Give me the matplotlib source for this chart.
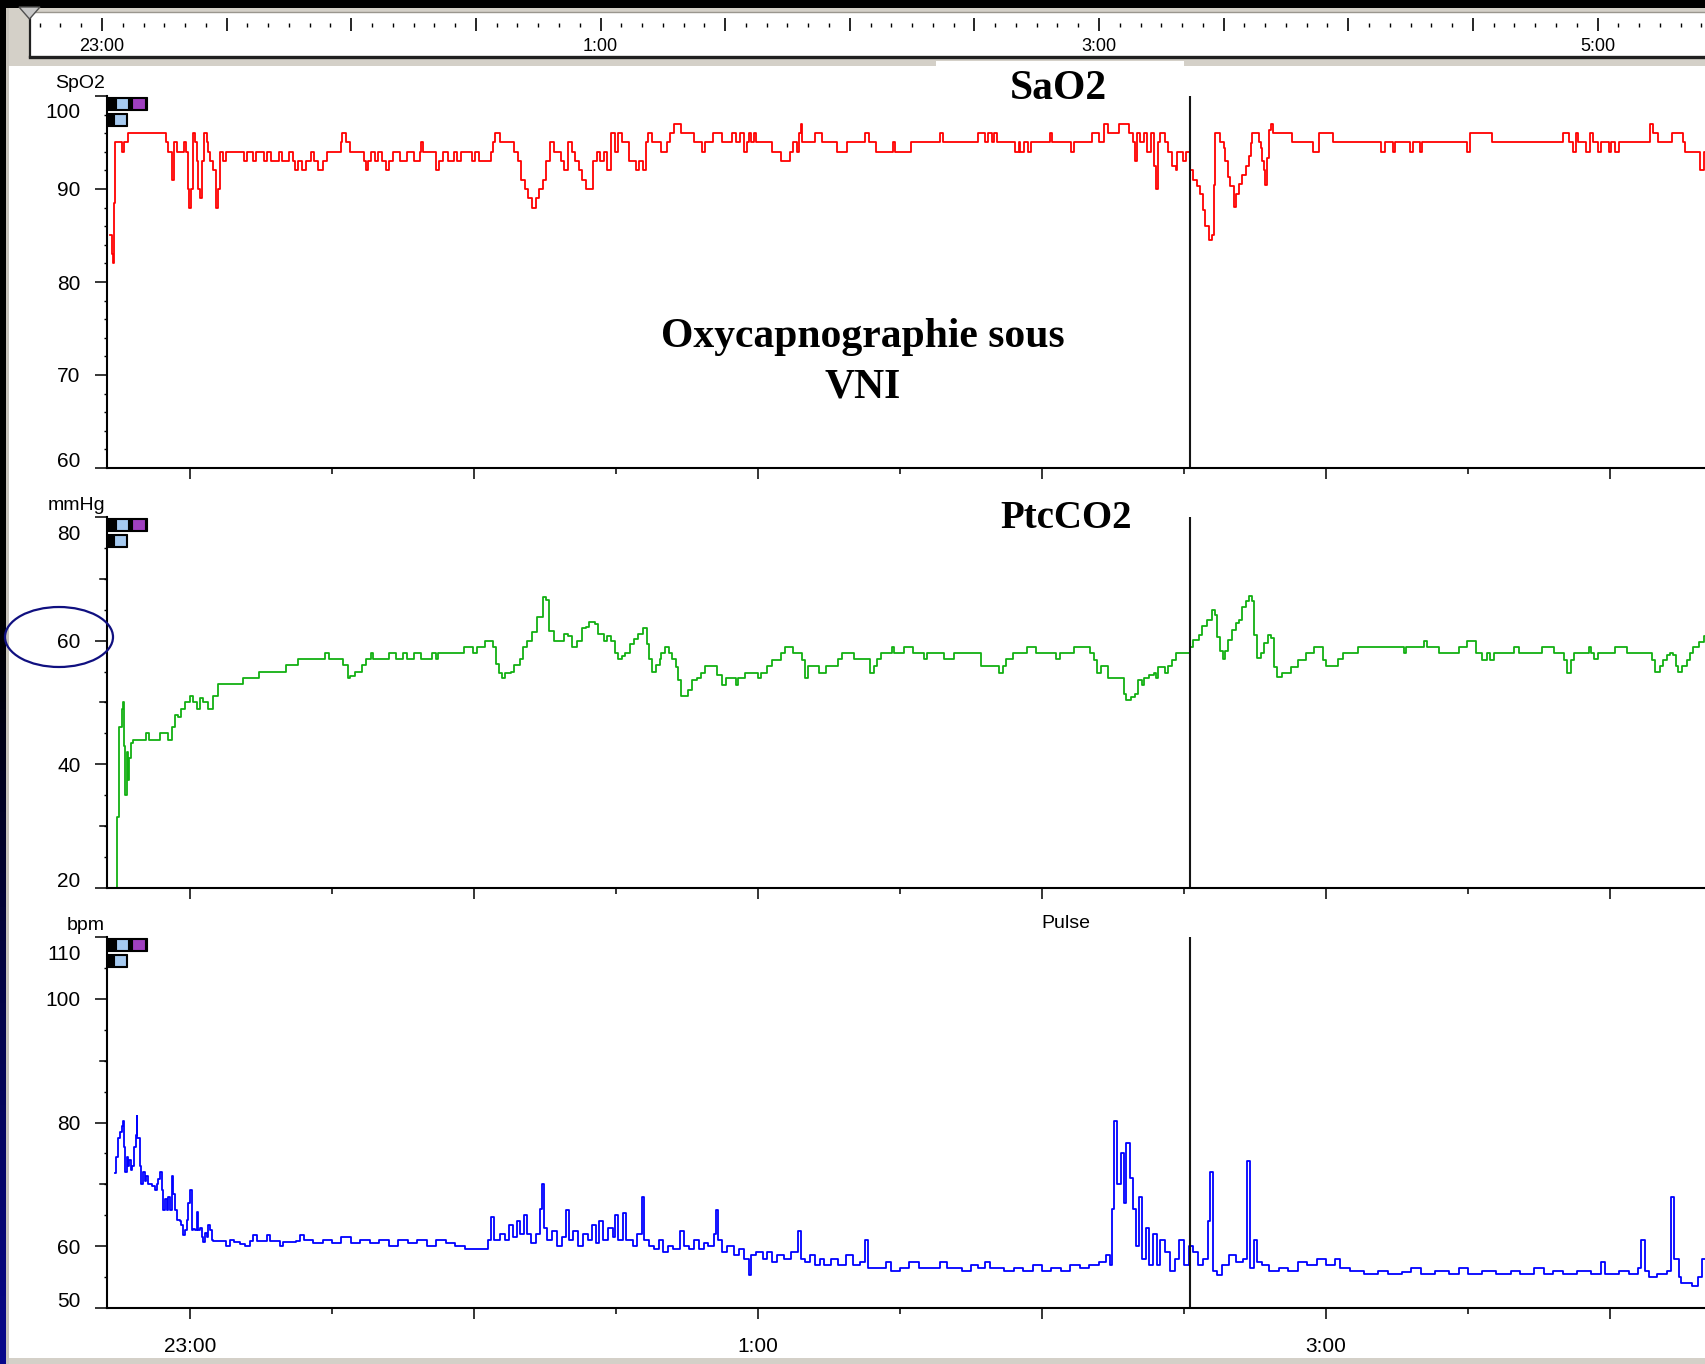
import numpy as np
import matplotlib
matplotlib.use("Agg")
import matplotlib.pyplot as plt
from matplotlib.patches import Rectangle, Ellipse, Polygon
from matplotlib.transforms import ScaledTranslation

# ---------------- data : (minutes relative to 23:00, value) ----------------
SPO2 = [(-16.8, 85), (-16.5, 83), (-16.3, 82), (-16.1, 88.5), (-15.9, 95), (-14.3, 94), (-13.9, 95), (-13.2, 96),
        (-5.0, 95), (-4.6, 94), (-3.8, 91), (-3.3, 95), (-2.8, 94), (-1.2, 95), (-0.8, 94), (-0.5, 90), (-0.15, 88),
        (0.3, 90), (0.7, 96), (1.1, 95), (1.4, 93), (1.7, 90), (2.1, 89), (2.5, 93), (2.9, 96), (3.5, 95), (3.9, 94),
        (4.3, 93), (4.9, 92), (5.5, 88), (6.0, 90), (6.4, 94), (7.0, 93), (7.6, 94),
        (8.0, 94), (11.5, 93), (12.0, 94), (13.4, 93), (14.0, 94), (15.7, 93), (16.3, 94), (17.2, 93), (18.7, 94),
        (19.5, 93), (21.0, 94), (21.7, 93), (22.1, 92), (22.9, 93), (23.6, 92), (24.5, 93), (25.5, 94), (26.3, 93),
        (27.0, 92), (28.2, 93), (28.9, 94), (31.9, 95), (32.2, 96), (33.0, 95), (33.8, 94), (36.8, 93), (37.2, 92),
        (37.6, 93), (38.3, 94), (39.1, 93), (39.8, 94), (40.6, 93), (41.4, 92), (42.1, 93), (42.9, 94), (44.4, 93),
        (45.9, 94), (47.4, 93), (48.5, 94), (48.9, 95), (49.3, 94), (51.9, 92), (52.7, 93), (53.4, 94), (54.6, 93),
        (55.7, 94), (56.4, 93), (57.2, 94), (59.5, 93), (60.2, 94), (61.0, 93), (63.6, 94), (64.0, 95), (64.4, 96),
        (65.5, 95), (68.5, 94), (69.3, 93), (70.0, 91), (70.8, 90), (71.5, 89), (72.3, 88), (73.0, 89), (73.8, 90),
        (74.5, 91), (75.3, 93), (76.1, 95), (76.8, 94), (78.3, 93), (79.1, 92), (79.8, 95), (80.6, 94), (81.3, 93),
        (82.1, 92), (82.9, 91), (83.6, 90), (85.1, 93), (85.9, 94), (86.6, 93), (87.4, 94), (88.1, 92), (88.9, 96),
        (89.7, 94), (90.4, 96), (91.2, 95), (92.7, 93), (94.2, 92), (94.9, 93), (95.7, 92), (96.4, 95), (96.7, 96),
        (97.7, 95), (99.6, 94), (100.7, 95), (101.5, 96), (102.2, 97), (103.7, 96), (106.4, 95), (108.1, 94),
        (108.7, 95), (110.5, 96), (112.4, 95), (114.5, 96), (115.4, 95), (116.2, 96), (117.0, 94), (117.7, 95),
        (118.1, 96), (118.5, 95), (119.2, 96), (119.6, 95), (123.0, 94), (124.9, 93), (126.8, 94), (127.5, 95),
        (128.3, 94), (128.6, 96), (129.0, 97), (129.4, 95), (132.0, 96), (133.6, 95), (136.6, 94), (138.8, 95),
        (142.6, 96), (143.4, 95), (144.9, 94), (148.6, 95), (149.0, 94), (152.4, 95), (158.5, 96), (159.1, 95),
        (166.4, 96), (167.9, 95), (168.6, 96), (169.4, 95), (169.8, 96), (170.5, 95), (174.3, 94), (175.1, 95),
        (175.4, 94), (176.2, 95), (177.0, 94), (177.7, 95), (181.7, 96), (182.2, 95), (186.2, 94), (186.7, 95),
        (190.5, 96), (192.0, 95), (193.2, 97), (193.9, 96), (196.2, 97), (198.4, 96), (199.2, 95), (199.6, 93),
        (200.0, 96), (200.7, 95), (201.5, 96), (202.2, 94), (203.0, 96), (203.7, 92.5), (204.1, 90), (204.5, 95),
        (204.9, 96), (206.0, 95), (206.7, 94), (207.5, 92.5), (208.3, 92), (208.6, 94), (209.8, 93), (210.5, 94),
        (211.3, 92), (212.0, 91), (212.7, 90.3), (213.4, 89.5), (214.1, 87.7), (214.5, 86), (215.2, 84.5),
        (215.9, 85), (216.3, 90.4), (216.6, 96), (217.7, 95), (218.4, 94.4), (218.7, 93), (219.4, 91.3),
        (219.8, 90.3), (220.5, 88.1), (220.9, 89.5), (221.6, 90.5), (222.3, 91.5), (223.0, 92.5), (223.7, 93.5),
        (224.1, 94.9), (224.4, 96), (225.8, 95), (226.2, 94.4), (226.5, 93), (226.9, 92), (227.2, 90.4),
        (227.6, 93.3), (227.9, 96.3), (228.4, 97), (228.9, 96), (232.9, 95), (237.2, 94), (238.6, 96), (241.4, 95),
        (251.7, 94), (252.4, 95), (254.2, 94), (254.5, 95), (257.7, 94), (258.4, 95), (259.9, 94), (260.2, 95),
        (269.8, 94), (270.5, 96), (275.1, 95), (290.0, 96), (291.4, 95), (292.1, 94), (292.8, 96), (293.2, 95),
        (294.9, 94), (295.7, 96), (296.4, 95), (297.4, 94), (298.1, 95), (299.8, 94), (300.3, 95), (301.0, 94),
        (302.0, 95), (308.4, 97), (309.1, 96), (310.2, 95), (313.0, 96), (315.5, 95), (315.9, 94), (319.0, 92),
        (319.8, 94), (320.3, 95)]

PTCCO2 = [(-15.6, 20), (-15.4, 31.5), (-15.0, 46), (-14.4, 49), (-14.1, 50), (-13.9, 43), (-13.7, 35), (-13.4, 42),
          (-13.2, 37.5), (-12.8, 41), (-12.5, 43.5), (-12.0, 44), (-9.2, 45), (-8.6, 44), (-6.3, 45), (-4.6, 44),
          (-3.9, 46), (-3.2, 48), (-2.5, 47.7), (-1.8, 49), (-1.1, 50), (0.0, 51), (0.7, 50), (1.4, 49), (2.1, 50.7),
          (2.8, 50), (3.9, 49), (4.9, 51), (5.9, 53), (11.2, 54), (14.6, 55), (20.2, 56), (22.9, 57), (28.5, 58),
          (29.3, 57), (32.3, 56), (33.3, 54), (33.8, 54.3), (34.9, 55), (36.4, 56), (37.2, 57), (38.3, 58), (38.7, 57),
          (42.1, 58), (43.6, 57), (45.1, 58), (45.9, 57), (47.4, 58), (48.9, 57), (51.2, 58), (51.9, 57), (52.3, 58),
          (57.9, 59), (59.8, 58), (60.6, 59), (62.3, 60), (64.0, 59), (64.7, 56.2), (65.3, 54.7), (65.9, 54),
          (66.6, 54.7), (67.8, 55), (68.5, 56), (69.7, 57), (70.4, 59), (71.2, 60), (72.3, 61.4), (73.4, 63.8),
          (74.6, 67), (75.3, 66.5), (75.9, 61.6), (76.8, 60), (79.1, 61), (79.8, 60.8), (80.6, 59), (81.7, 60),
          (82.9, 62), (83.6, 62.2), (84.4, 63), (85.5, 62.7), (86.3, 61), (87.4, 60), (88.1, 60.8), (88.9, 60),
          (89.7, 58), (90.4, 57), (91.2, 57.6), (91.9, 58), (93.0, 59.5), (93.8, 60.3), (94.6, 61), (95.7, 62),
          (96.5, 59.5), (97.0, 57), (97.7, 55), (98.5, 56), (99.2, 57), (99.6, 58), (100.4, 59), (101.1, 58),
          (101.9, 57), (102.6, 55.8), (103.0, 53.7), (103.8, 51), (105.3, 52), (106.0, 53.7), (107.1, 54),
          (107.9, 54.8), (108.7, 55.9), (111.3, 54.4), (112.4, 52.8), (113.2, 53.9), (115.4, 52.8), (115.8, 53.9),
          (117.3, 54.8), (120.0, 53.9), (120.7, 54.8), (121.9, 55.9), (123.0, 56.9), (124.9, 58), (125.6, 58.9),
          (127.5, 58), (129.4, 56.9), (129.9, 53.9), (130.5, 55.9), (132.8, 54.8), (134.3, 55.9), (136.9, 57),
          (137.7, 58), (140.3, 57), (143.7, 54.8), (144.5, 55.9), (145.2, 57), (146.0, 58), (148.3, 58.9),
          (148.8, 58), (150.9, 58.9), (152.8, 58), (155.1, 57), (155.8, 58), (159.2, 57), (161.5, 58),
          (167.1, 55.9), (170.9, 54.8), (171.7, 55.9), (172.4, 57), (173.9, 58), (176.9, 58.9), (178.8, 58),
          (183.0, 57), (183.7, 58), (186.7, 58.9), (190.1, 58), (190.9, 56.9), (191.7, 54.8), (192.4, 55.9),
          (193.9, 53.9), (197.3, 51.4), (197.7, 50.4), (198.8, 50.9), (199.6, 51.4), (200.3, 53.7), (201.1, 52.8),
          (201.5, 53.9), (202.6, 54.4), (203.7, 54.8), (204.1, 53.9), (204.5, 55.8), (206.0, 54.8), (206.7, 55.9),
          (207.5, 56.9), (208.3, 58), (211.3, 58.9), (212.0, 60.1), (213.1, 60.9), (213.8, 62.3), (214.8, 63.4),
          (215.9, 65), (216.6, 64.2), (217.0, 60.6), (217.7, 58.4), (218.2, 57), (218.7, 58.4), (219.4, 60.1),
          (220.1, 61.7), (220.9, 62.8), (221.6, 63.4), (222.3, 65.5), (223.0, 66.4), (223.7, 67.2), (224.4, 66.4),
          (224.8, 60.9), (225.5, 57.2), (226.2, 58), (226.9, 59.6), (227.7, 60.9), (228.4, 60.4), (229.0, 55.8),
          (229.7, 54.2), (230.8, 54.7), (232.6, 55.8), (234.0, 56.9), (235.8, 58), (237.5, 58.9), (239.3, 56.9),
          (240.0, 55.9), (242.5, 57), (243.5, 58), (246.7, 58.9), (256.5, 58), (257.0, 58.9), (260.6, 60),
          (261.3, 58.9), (263.8, 58), (268.0, 58.9), (269.8, 60), (271.6, 58), (273.0, 56.9), (274.0, 58),
          (274.7, 56.9), (275.4, 58), (279.7, 58.9), (280.8, 58), (285.7, 58.9), (288.2, 58), (290.3, 56.9),
          (291.0, 54.7), (291.8, 56.9), (292.5, 58), (295.5, 58.9), (296.0, 58), (296.7, 57), (297.4, 58),
          (301.0, 58.9), (303.5, 58), (308.8, 56.9), (309.5, 55), (310.5, 55.9), (311.3, 56.9), (312.0, 57.7),
          (312.7, 58), (313.4, 57.7), (314.0, 55.9), (314.4, 55), (315.2, 55.9), (316.2, 56.9), (316.9, 58),
          (317.6, 58.9), (318.7, 59.8), (319.8, 60.7), (320.3, 61.5)]

PULSE = [(-15.8, 71.8), (-15.6, 74.5), (-15.3, 77.5), (-14.8, 78.5), (-14.3, 79.4), (-14.1, 80.2), (-14.0, 76),
         (-13.7, 72), (-13.4, 74.5), (-13.1, 73), (-12.8, 74), (-12.5, 72.3), (-12.2, 73), (-11.8, 76), (-11.5, 78),
         (-11.3, 81), (-11.1, 77.5), (-10.6, 73), (-10.3, 70), (-9.9, 72), (-9.6, 70.5), (-9.2, 71.3), (-8.8, 70),
         (-8.1, 69.7), (-7.4, 69.1), (-7.0, 70), (-6.7, 70.8), (-6.3, 72), (-5.9, 69.1), (-5.6, 65.8), (-5.3, 67.7),
         (-4.9, 65.8), (-4.6, 68), (-4.2, 65.8), (-3.8, 71.3), (-3.5, 68.5), (-3.2, 65.8), (-2.8, 64.2), (-2.1, 64),
         (-1.8, 63.5), (-1.4, 61.8), (-1.1, 62.6), (-0.7, 64.2), (-0.35, 67), (0.0, 69.1), (0.35, 62.6), (0.7, 62.8),
         (1.05, 62.6), (1.4, 65.5), (1.75, 62.6), (2.1, 63), (2.45, 61.5), (2.8, 60.7), (3.15, 62.2), (3.5, 61.5),
         (3.85, 63.5), (4.2, 62.6), (4.55, 61.0), (4.9, 60.8), (7.0, 60.8), (7.7, 60.0), (8.5, 61.0), (9.2, 60.7),
         (10.6, 60.4), (11.7, 60.0), (12.7, 60.8), (13.4, 61.8), (14.1, 60.8), (16.2, 61.8), (16.9, 60.8),
         (19.0, 60.0), (19.7, 60.7), (22.5, 60.8), (23.2, 61.8), (24, 61), (26, 60.5), (28, 61), (30, 60.5),
         (32, 61.5), (34, 60.5), (36, 61), (38, 60.5), (40, 61), (42, 60), (44, 61), (46, 60.5), (48, 61), (50, 60),
         (52, 61), (54, 60.5), (56, 60), (58, 59.5), (63, 61), (63.5, 64.7), (64.2, 61), (65.5, 62), (66.5, 61),
         (67.5, 63.5), (68.3, 61.5), (69.1, 64), (69.8, 62), (70.5, 65), (71.2, 62), (72.0, 60.5), (73.0, 62),
         (74.0, 66), (74.3, 70), (74.8, 63), (75.5, 61), (76.5, 62.5), (77.5, 60), (78.5, 61.5), (79.4, 65.8),
         (80.0, 61), (81, 62.5), (82, 60), (83, 62), (84, 61), (85, 63.5), (85.8, 60.5), (86.5, 64), (87.3, 61),
         (88.3, 63), (89.3, 61.5), (89.8, 65), (90.5, 61), (91.5, 65.3), (92.2, 61), (93.5, 60), (94.5, 62),
         (95.5, 68), (96.0, 61), (97, 60), (98, 59.5), (99, 61), (100, 59), (101, 60), (102, 59.5), (103.5, 62.5),
         (104.3, 60), (105.5, 59.5), (106.5, 61), (107.5, 59.5), (108.5, 60.5), (109.5, 60), (110.7, 62),
         (111.1, 65.8), (111.6, 61), (112.5, 59), (113.5, 60), (115, 58.5), (116, 59.5), (117, 58), (118, 55.3),
         (118.5, 58.5), (119.5, 59), (121, 58), (122, 59), (123, 57.5), (124, 58.5), (125.5, 58), (127, 59),
         (128.4, 62.5), (129, 58), (130, 57.5), (131, 58.5), (132, 57), (133, 58), (134, 57), (135.5, 58),
         (137, 57), (138.5, 58.5), (140, 57), (141.5, 57.5), (142.6, 61), (143.3, 56.5), (147, 57.5), (148, 56),
         (150, 56.5), (152, 57.5), (154, 56.5), (158.5, 57.5), (160, 56.5), (163, 56), (165, 57), (166.5, 56.5),
         (168, 57.5), (169, 56.5), (172, 56), (174, 56.5), (176, 56), (178, 57), (180, 56), (182, 56.5), (184, 56),
         (186, 57), (188, 56.5), (190, 57), (192, 57.5), (193.5, 58.5), (194.4, 57), (194.8, 66), (195.3, 80.2),
         (195.8, 70), (196.7, 75), (197.3, 67), (197.8, 76.7), (198.5, 71), (199.2, 66), (199.8, 60), (200.5, 68),
         (201.2, 58), (202, 63), (202.6, 57), (203.5, 62), (204.2, 57), (205, 61), (206, 59), (207, 56), (208, 58),
         (209, 61), (210, 57), (211, 60), (212, 59), (213, 57), (214, 58), (215, 64), (215.5, 72), (216.2, 56),
         (217, 55.3), (218, 57), (219.5, 58.5), (221, 57.5), (222.5, 58), (223.3, 73.7), (223.9, 56.5),
         (224.8, 61), (225.5, 57.5), (226.5, 57), (228, 56), (230, 56.5), (232, 56), (234, 57.5), (236, 57),
         (238, 58), (240, 57), (242, 58), (243, 56.5), (245, 56), (248, 55.5), (251, 56), (253, 55.5), (256, 55.8),
         (258, 56.5), (260, 55.5), (263, 56), (266, 55.5), (268, 56.5), (270, 55.5), (273, 56), (276, 55.5),
         (279, 56), (281, 55.5), (284, 56.5), (286, 55.5), (288, 56), (290, 55.5), (293, 56), (296, 55.5),
         (298, 57.5), (299, 55.5), (302, 56), (304, 55.5), (305.9, 56.5), (306.5, 61), (307.3, 56), (308.2, 55),
         (310, 55.5), (312, 56), (312.8, 68), (313.5, 58), (314.5, 55), (315.1, 54), (317.4, 53.5), (318.5, 55),
         (319.5, 58), (320.3, 57)]

CURSOR_T = 211.3
HOUR_TICKS = [0, 60, 120, 180, 240, 300]
HALF_TICKS = [30, 90, 150, 210, 270]
HOUR_LABELS = ["23:00", "", "1:00", "", "3:00", ""]
RULER_LABEL_POS = [0, 120, 240, 360]
RULER_LABELS = ["23:00", "1:00", "3:00", "5:00"]

# ---------------- figure ----------------
W, H, DPI = 1706, 1364, 100
fig = plt.figure(figsize=(W / DPI, H / DPI), dpi=DPI)
fig.patch.set_facecolor("white")
GRAY = "#d4d0c8"
SANS = ["Liberation Sans", "DejaVu Sans"]
SERIF = ["Liberation Serif", "DejaVu Serif"]


def px_rect(x0, y0, x1, y1):
    return [x0 / W, 1 - y1 / H, (x1 - x0) / W, (y1 - y0) / H]


# background (pixel coordinates)
bg = fig.add_axes([0, 0, 1, 1], zorder=-10)
bg.set_xlim(0, W); bg.set_ylim(H, 0); bg.axis("off")
bg.add_patch(Rectangle((0, 8), W, 58, color=GRAY, lw=0))
bg.add_patch(Rectangle((0, 0), W, 8, color="black", lw=0))
bg.add_patch(Rectangle((936, 61), 248, 10, color="white", lw=0))
bg.add_patch(Rectangle((0, 1358), W, 6, color=GRAY, lw=0))
grad = np.zeros((200, 1, 3))
frac = np.clip((np.linspace(0, 1, 200) - 0.45) / 0.55, 0, 1)
grad[:, 0, 2] = 0.55 * frac
grad[:, 0, 0] = 0.03 * frac
grad[:, 0, 1] = 0.03 * frac
bg.imshow(grad, extent=[0, 6, H, 0], aspect="auto", zorder=2)
bg.add_patch(Rectangle((6, 8), 3, H, color="#c8c4bc", lw=0, zorder=3))
bg.set_xlim(0, W); bg.set_ylim(H, 0)

# ruler
rx0, rx1 = 30, 1706
r_left = (rx0 - 102) / 249.25 * 60
r_right = (rx1 - 102) / 249.25 * 60
ruler = fig.add_axes(px_rect(rx0, 12, rx1, 57), zorder=1)
ruler.set_facecolor("white")
ruler.set_xlim(r_left, r_right); ruler.set_ylim(0, 1)
ruler.set_xticks([]); ruler.set_yticks([])
ruler.spines["right"].set_visible(False)
ruler.spines["top"].set_color("#9a968e"); ruler.spines["top"].set_linewidth(1.0)
ruler.spines["left"].set_color("#202020"); ruler.spines["left"].set_linewidth(1.6)
ruler.spines["bottom"].set_color("#202020"); ruler.spines["bottom"].set_linewidth(2.4)
marks = np.arange(-15, 390, 5)
long_m = marks[marks % 30 == 0]
short_m = marks[marks % 30 != 0]
ruler.vlines(long_m, 0.58, 0.87, color="black", lw=1.2)
ruler.vlines(short_m, 0.67, 0.75, color="black", lw=1.0)
for p, lab in zip(RULER_LABEL_POS, RULER_LABELS):
    ruler.text(p, 0.24, lab, ha="center", va="center", fontsize=13, family=SANS)

# panels
PANELS = [
    dict(series=SPO2, color="#ff0000", top=96, bot=468, ylim=(60, 100),
         major=[60, 70, 80, 90, 100], medium=[], minor=np.arange(60, 101, 2), unit="SpO2"),
    dict(series=PTCCO2, color="#12b012", top=517, bot=888, ylim=(20, 80),
         major=[20, 40, 60, 80], medium=[30, 50, 70], minor=np.arange(20, 81, 5), unit="mmHg"),
    dict(series=PULSE, color="#0000ff", top=937, bot=1308, ylim=(50, 110),
         major=[50, 60, 80, 100, 110], medium=[70, 90], minor=np.arange(50, 111, 5), unit="bpm"),
]
X0 = 107
XLIM = ((X0 - 190) / 284 * 60, (W - 190) / 284 * 60)
axw = W - X0
for i, P in enumerate(PANELS):
    ax = fig.add_axes(px_rect(X0, P["top"], W, P["bot"]), zorder=0)
    ax.set_facecolor("none")
    t, v = zip(*P["series"])
    ax.plot(t, v, drawstyle="steps-post", color=P["color"], lw=1.3)
    ax.axvline(CURSOR_T, color="#151515", lw=1.5)
    ax.set_xlim(*XLIM); ax.set_ylim(*P["ylim"])
    for s in ["top", "right"]:
        ax.spines[s].set_visible(False)
    for s in ["left", "bottom"]:
        ax.spines[s].set_linewidth(1.5); ax.spines[s].set_color("black")
    ax.set_xticks(HOUR_TICKS)
    ax.set_xticks(HALF_TICKS, minor=True)
    ax.tick_params(axis="x", which="major", direction="out", length=8, width=1.1, color="black")
    ax.tick_params(axis="x", which="minor", direction="out", length=4.3, width=1.1, color="black")
    if i == 2:
        ax.set_xticklabels(HOUR_LABELS, fontsize=15, family=SANS)
        ax.tick_params(axis="x", which="major", pad=13)
    else:
        ax.tick_params(axis="x", labelbottom=False)
    ax.set_yticks(P["major"])
    ax.set_yticklabels([str(m) for m in P["major"]], fontsize=15, family=SANS)
    ax.set_yticks(P["minor"], minor=True)
    ax.tick_params(axis="y", which="major", direction="out", length=8.6, width=1.1, pad=10.5, color="black")
    ax.tick_params(axis="y", which="minor", direction="out", length=2.3, width=1.0, color="black")
    for m in P["medium"]:
        ax.plot([-7 / axw, 0], [m, m], transform=ax.get_yaxis_transform(), color="black", lw=1.1, clip_on=False)
    lo, hi = P["ylim"]
    for tk in ax.yaxis.get_major_ticks():
        if abs(tk.get_loc() - hi) < 1e-6:
            tk.label1.set_transform(tk.label1.get_transform() + ScaledTranslation(0, -0.15, fig.dpi_scale_trans))
        elif abs(tk.get_loc() - lo) < 1e-6:
            tk.label1.set_transform(tk.label1.get_transform() + ScaledTranslation(0, 0.085, fig.dpi_scale_trans))

# overlay (pixel coordinates)
ov = fig.add_axes([0, 0, 1, 1], zorder=10)
ov.set_xlim(0, W); ov.set_ylim(H, 0); ov.axis("off"); ov.patch.set_alpha(0)
ov.add_patch(Polygon([(19, 7), (40, 7), (29.5, 19)], closed=True, facecolor="#c8c8c8", edgecolor="#505050", lw=1))
for P in PANELS:
    top = P["top"]
    ov.text(105, top - 12, P["unit"], ha="right", va="center", fontsize=14, family=SANS)
    ov.add_patch(Rectangle((107, top + 1), 40, 13, facecolor="black", edgecolor="black", lw=0.8))
    ov.add_patch(Rectangle((116, top + 2), 12, 11, facecolor="#a6caf0", edgecolor="black", lw=0.8))
    ov.add_patch(Rectangle((132, top + 2), 13, 11, facecolor="#a040c0", edgecolor="black", lw=0.8))
    ov.add_patch(Rectangle((107, top + 17), 20, 13, facecolor="black", edgecolor="black", lw=0.8))
    ov.add_patch(Rectangle((114, top + 18), 12, 11, facecolor="#a6caf0", edgecolor="black", lw=0.8))

ov.text(1058, 89, "SaO2", ha="center", va="center", fontsize=30, fontweight="bold", family=SERIF)
ov.text(1066, 519, "PtcCO2", ha="center", va="center", fontsize=28, fontweight="bold", family=SERIF)
ov.text(863, 337, "Oxycapnographie sous", ha="center", va="center", fontsize=30, fontweight="bold", family=SERIF)
ov.text(863, 387, "VNI", ha="center", va="center", fontsize=30, fontweight="bold", family=SERIF)
ov.text(1066, 923, "Pulse", ha="center", va="center", fontsize=14, family=SANS)
ov.add_patch(Ellipse((59, 637), 108, 60, fill=False, edgecolor="#101080", lw=1.6))

fig.savefig("out.png", dpi=DPI)
